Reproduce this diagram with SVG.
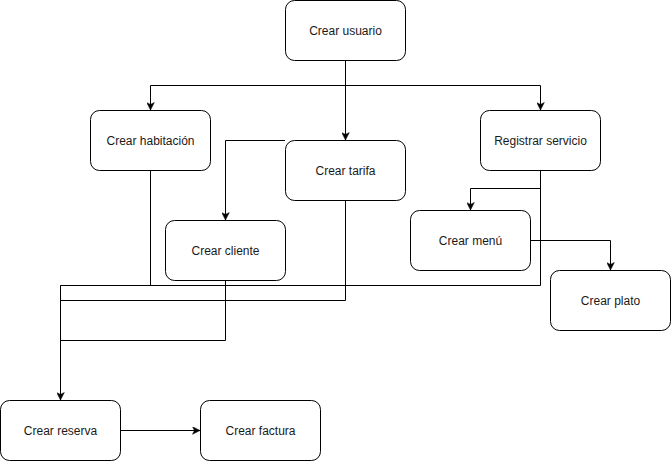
<svg xmlns="http://www.w3.org/2000/svg" width="671" height="461" viewBox="0 0 671 461">
<defs>
<style>
.node rect{fill:#fff;stroke:#000;stroke-width:1}
.node text{font-family:"Liberation Sans",Arial,sans-serif;font-size:12px;fill:#1a1a1a;text-anchor:middle;dominant-baseline:central}
.edges path{fill:none;stroke:#000;stroke-width:1}
</style>
<marker id="arr" viewBox="-8 -4 9 8" refX="0" refY="0" markerWidth="9" markerHeight="8" markerUnits="userSpaceOnUse" orient="auto">
<path d="M-7.5,-3.8 L0,0 L-7.5,3.8 L-5.6,0 Z" fill="#000" stroke="#000" stroke-width="0.5"/>
</marker>
</defs>
<rect width="671" height="461" fill="#fff"/>
<g class="edges">
<path d="M345.5,60 V85.5 H150.5 V110" marker-end="url(#arr)"/>
<path d="M345.5,85.5 H540.5 V110" marker-end="url(#arr)"/>
<path d="M345.5,60 V140" marker-end="url(#arr)"/>
<path d="M285,140.5 H225.5 V220" marker-end="url(#arr)"/>
<path d="M150.5,170 V285.5 H60.5 V400" marker-end="url(#arr)"/>
<path d="M540.5,170 V285.5 H60.5"/>
<path d="M345.5,200 V300.5 H60.5"/>
<path d="M225.5,280 V340.5 H60.5"/>
<path d="M540.5,188.5 H470.5 V210" marker-end="url(#arr)"/>
<path d="M527,240.5 H610.5 V270" marker-end="url(#arr)"/>
<path d="M120,430.5 H200" marker-end="url(#arr)"/>
</g>
<g id="crear-usuario" class="node"><rect x="285.5" y="0.5" width="120" height="60" rx="9"/><text x="345.5" y="30.5">Crear usuario</text></g>
<g id="crear-habitacion" class="node"><rect x="90.5" y="110.5" width="120" height="60" rx="9"/><text x="150.5" y="140.5">Crear habitación</text></g>
<g id="crear-tarifa" class="node"><rect x="285.5" y="140.5" width="120" height="60" rx="9"/><text x="345.5" y="170.5">Crear tarifa</text></g>
<g id="registrar-servicio" class="node"><rect x="480.5" y="110.5" width="120" height="60" rx="9"/><text x="540.5" y="140.5">Registrar servicio</text></g>
<g id="crear-cliente" class="node"><rect x="165.5" y="220.5" width="120" height="60" rx="9"/><text x="225.5" y="250.5">Crear cliente</text></g>
<g id="crear-menu" class="node"><rect x="410.5" y="210.5" width="120" height="60" rx="9"/><text x="470.5" y="240.5">Crear menú</text></g>
<g id="crear-plato" class="node"><rect x="550.5" y="270.5" width="120" height="60" rx="9"/><text x="610.5" y="300.5">Crear plato</text></g>
<g id="crear-reserva" class="node"><rect x="0.5" y="400.5" width="120" height="60" rx="9"/><text x="60.5" y="430.5">Crear reserva</text></g>
<g id="crear-factura" class="node"><rect x="200.5" y="400.5" width="120" height="60" rx="9"/><text x="260.5" y="430.5">Crear factura</text></g>
</svg>
